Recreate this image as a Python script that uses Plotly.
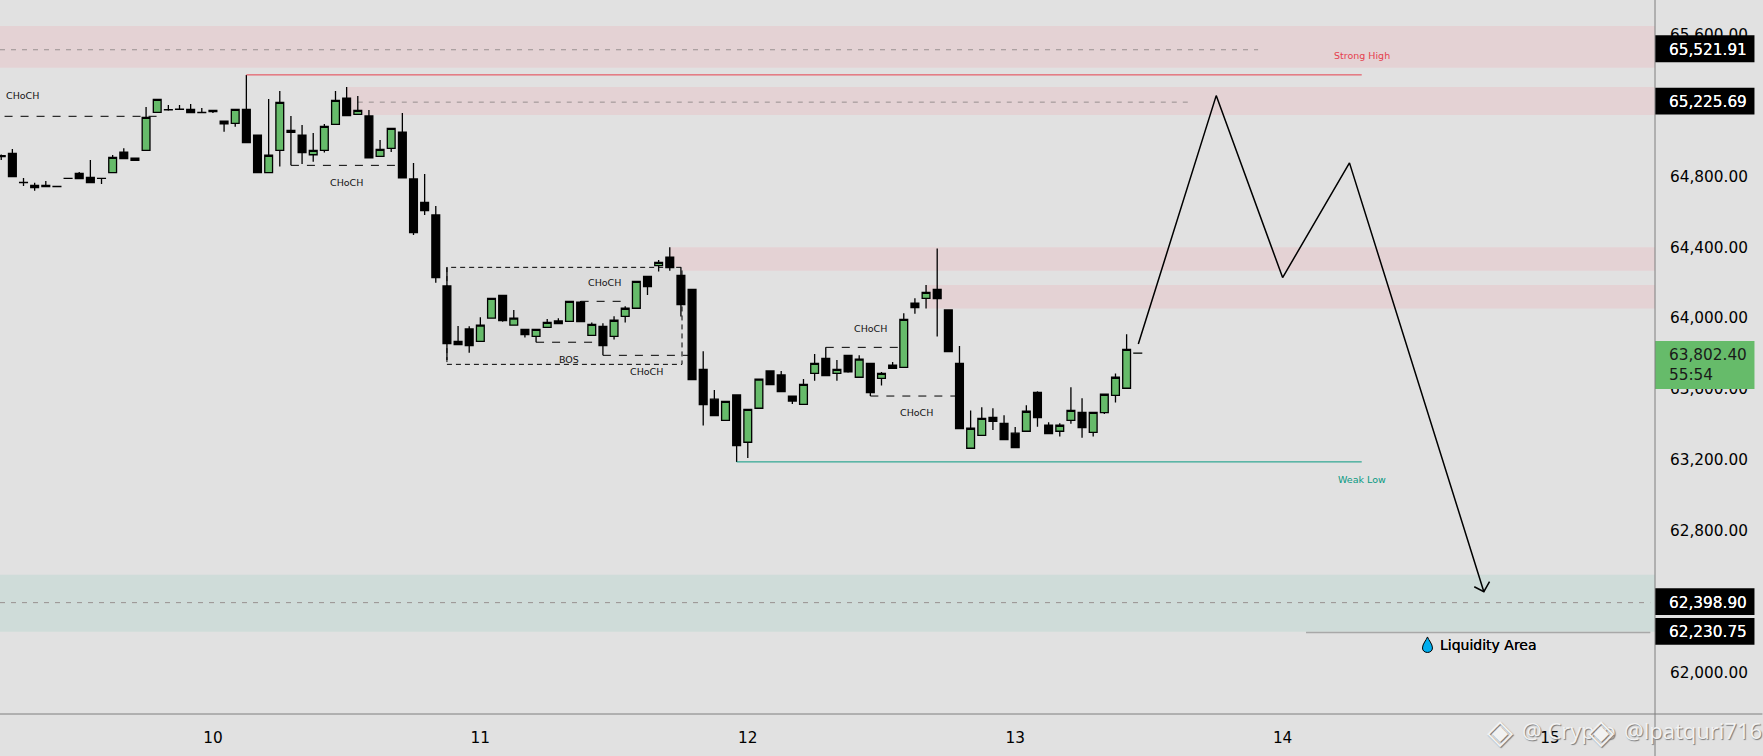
import plotly.graph_objects as go

# hours counted from the "10" day label, one candle per hour
hours = list(range(-19, 84))

opens = [64918, 64931, 64767, 64750, 64750, 64744, 64790, 64818, 64795, 64790,
         64822, 64937, 64891, 64948, 65162, 65177, 65179, 65179, 65162, 65174,
         65112, 65100, 65179, 65033, 64822, 64948, 65050, 65033, 64923, 64948,
         65095, 65242, 65151, 65142, 64914, 64959, 65051, 64786, 64654, 64583,
         64182, 63869, 63939, 63869, 64000, 64129, 63960, 63937, 63897, 63948,
         63984, 63982, 64091, 63903, 63954, 63897, 64010, 64056, 64236, 64297,
         64344, 64242, 64163, 63711, 63542, 63423, 63566, 63299, 63491, 63702,
         63679, 63560, 63513, 63688, 63773, 63688, 63790, 63666, 63745, 63660,
         63734, 63722, 64084, 64112, 64163, 64046, 63745, 63265, 63338, 63440,
         63406, 63350, 63361, 63581, 63395, 63361, 63423, 63468, 63355, 63466,
         63564, 63604, 63802]
highs = [64925, 64955, 64792, 64765, 64775, 64744, 64790, 64825, 64893, 64790,
         64921, 64959, 64903, 65193, 65236, 65204, 65204, 65210, 65187, 65174,
         65112, 65179, 65373, 65033, 65238, 65283, 65142, 65091, 65046, 65097,
         65283, 65306, 65255, 65176, 65006, 65072, 65159, 64876, 64814, 64633,
         64287, 63956, 63954, 64005, 64112, 64129, 64046, 63937, 63937, 63995,
         64000, 64095, 64097, 63976, 63971, 64010, 64067, 64208, 64236, 64329,
         64400, 64287, 64163, 63813, 63594, 63530, 63566, 63485, 63655, 63702,
         63702, 63560, 63656, 63798, 63835, 63764, 63790, 63790, 63745, 63696,
         63752, 64027, 64112, 64187, 64394, 64046, 63843, 63479, 63496, 63491,
         63451, 63385, 63508, 63587, 63412, 63406, 63609, 63547, 63468, 63570,
         63688, 63909, 63803]
lows = [64893, 64799, 64746, 64720, 64743, 64743, 64789, 64788, 64765, 64758,
        64822, 64901, 64891, 64948, 65162, 65172, 65178, 65161, 65159, 65159,
        65053, 65081, 64991, 64822, 64822, 64856, 64863, 64871, 64884, 64935,
        65095, 65144, 65151, 64906, 64914, 64938, 64793, 64470, 64583, 64200,
        63764, 63850, 63805, 63869, 64000, 63980, 63960, 63890, 63864, 63948,
        63969, 63982, 63980, 63903, 63790, 63879, 63975, 64056, 64131, 64263,
        64268, 64009, 63653, 63393, 63449, 63423, 63188, 63210, 63491, 63624,
        63585, 63515, 63513, 63647, 63675, 63647, 63692, 63666, 63560, 63619,
        63717, 63722, 64025, 64054, 63896, 63811, 63376, 63265, 63338, 63368,
        63314, 63269, 63361, 63387, 63348, 63331, 63404, 63325, 63331, 63459,
        63523, 63604, 63802]
closes = [64912, 64799, 64765, 64737, 64743, 64743, 64789, 64788, 64765, 64789,
          64908, 64901, 64903, 65134, 65236, 65178, 65180, 65161, 65161, 65166,
          65098, 65179, 64991, 64822, 64920, 65219, 65061, 64935, 64948, 65083,
          65230, 65144, 65174, 64906, 64953, 65072, 64793, 64483, 64607, 64229,
          63856, 63850, 63845, 63960, 64112, 63986, 64000, 63907, 63937, 63976,
          63969, 64095, 63980, 63965, 63845, 63988, 64056, 64208, 64178, 64315,
          64285, 64076, 63653, 63511, 63449, 63530, 63280, 63485, 63655, 63624,
          63585, 63532, 63626, 63745, 63675, 63711, 63696, 63768, 63579, 63688,
          63717, 63993, 64059, 64146, 64110, 63811, 63376, 63378, 63434, 63417,
          63314, 63269, 63474, 63438, 63348, 63395, 63479, 63382, 63468, 63570,
          63666, 63824, 63802.4]

x_start, x_end = -19.11, 129.42
y_bottom, y_top = 61764, 65797

day_ticks = [0, 24, 48, 72, 96, 120]
day_labels = ["10", "11", "12", "13", "14", "15"]
price_ticks = [62000, 62400, 62800, 63200, 63600, 64000, 64400, 64800, 65200, 65600]

# supply / demand zones: first hour, top, bottom
red_zones = [(x_start, 65650, 65415), (12, 65306, 65148), (41, 64400, 64268), (64, 64187, 64054)]
green_zone = (x_start, 62550, 62229)

# dashed structure lines: first hour, last hour, price
structure_lines = [(-18.7, -5, 65140), (7, 16.6, 64863), (33, 37, 64095),
                   (29, 35, 63864), (35, 43, 63790), (55, 62, 63835), (59, 67, 63560)]
box_hours = (21, 42.1)
box_prices = (63739, 64287)

# thin grey dashed level lines
level_lines = [(x_start, 93.8, 65516), (13, 88, 65220), (x_start, 129, 62393)]

strong_high = (3, 103.1, 65374)
weak_low = (47, 103.1, 63188)
liquidity_line = (98.1, 129, 62225)

path_hours = [83.05, 90.04, 96, 102, 114.06]
path_prices = [63854, 65257, 64229, 64877, 62455]
arrow_hours = [113.2, 114.06, 114.57]
arrow_prices = [62483, 62455, 62512]

labels = [(-17.05, 65256, "CHoCH"), (12, 64764, "CHoCH"), (35.1, 64204, "CHoCH"),
          (32, 63764, "BOS"), (38.9, 63696, "CHoCH"), (59, 63939, "CHoCH"), (63.1, 63465, "CHoCH")]

price_tags = [65521.91, 65225.69, 62398.90, 62230.75]

BG = "#e1e1e1"
FONT = "DejaVu Sans"

fig = go.Figure()

fig.add_trace(go.Candlestick(
    x=hours, open=opens, high=highs, low=lows, close=closes,
    increasing=dict(fillcolor="#66bb6a", line=dict(color="#000000", width=1.3)),
    decreasing=dict(fillcolor="#000000", line=dict(color="#000000", width=1.3)),
    whiskerwidth=0,
    showlegend=False,
))
fig.add_trace(go.Scatter(x=path_hours, y=path_prices, mode="lines", showlegend=False,
                         line=dict(color="#000000", width=1.5)))
fig.add_trace(go.Scatter(x=arrow_hours, y=arrow_prices, mode="lines", showlegend=False,
                         line=dict(color="#000000", width=1.5)))

for start, top, bottom in red_zones:
    fig.add_shape(type="rect", x0=start, x1=x_end, y0=bottom, y1=top, layer="below",
                  fillcolor="#e4d2d4", line_width=0)
fig.add_shape(type="rect", x0=green_zone[0], x1=x_end, y0=green_zone[2], y1=green_zone[1],
              layer="below", fillcolor="#cfdcd9", line_width=0)

fig.add_shape(type="rect", x0=box_hours[0], x1=box_hours[1], y0=box_prices[0], y1=box_prices[1],
              layer="below", fillcolor="#dcdcdc",
              line=dict(color="#000000", width=1, dash="5px,4px"))

for start, end, price in structure_lines:
    fig.add_shape(type="line", x0=start, x1=end, y0=price, y1=price, layer="below",
                  line=dict(color="#000000", width=1, dash="8px,8px"))

for start, end, price in level_lines:
    fig.add_shape(type="line", x0=start, x1=end, y0=price, y1=price, layer="below",
                  line=dict(color="#999090", width=1, dash="5px,6px"))

fig.add_shape(type="line", x0=strong_high[0], x1=strong_high[1], y0=strong_high[2], y1=strong_high[2],
              line=dict(color="#e5404e", width=1))
fig.add_shape(type="line", x0=weak_low[0], x1=weak_low[1], y0=weak_low[2], y1=weak_low[2],
              line=dict(color="#089981", width=1))
fig.add_shape(type="line", x0=liquidity_line[0], x1=liquidity_line[1], y0=liquidity_line[2], y1=liquidity_line[2],
              line=dict(color="#a8a8a8", width=1.5))

for hour, price, text in labels:
    fig.add_annotation(x=hour, y=price, text=text, showarrow=False,
                       font=dict(family=FONT, size=9.5, color="#111111"))
fig.add_annotation(x=103.1, y=65481, text="Strong High", showarrow=False,
                   font=dict(family=FONT, size=9.5, color="#e5404e"))
fig.add_annotation(x=103.1, y=63086, text="Weak Low", showarrow=False,
                   font=dict(family=FONT, size=9.5, color="#089981"))
fig.add_annotation(x=114.5, y=62154, text="Liquidity Area", showarrow=False,
                   font=dict(family=FONT, size=14, color="#000000", shadow="0 0 0.6px #000000"))

# water drop next to the liquidity label
fig.add_shape(type="path", xref="x", yref="y", xsizemode="pixel", ysizemode="pixel",
              xanchor=109, yanchor=62154,
              path="M0,8 C-1,5 -5,1 -5,-3 C-5,-9 5,-9 5,-3 C5,1 1,5 0,8 Z",
              fillcolor="#00aeef", line=dict(color="#000000", width=1))

# price tags on the axis
for price in price_tags:
    fig.add_shape(type="rect", xref="paper", x0=1, x1=1.0601, y0=price - 76, y1=price + 76,
                  fillcolor="#000000", line_width=0)
    fig.add_annotation(xref="paper", x=1, xanchor="left", xshift=12, yshift=-1, y=price,
                       text=f"{price:,.2f}", showarrow=False,
                       font=dict(family=FONT, size=15.3, color="#ffffff", shadow="0 0 0.5px #ffffff"))
fig.add_shape(type="rect", xref="paper", x0=1, x1=1.0601, y0=63600, y1=63871,
              fillcolor="#66bb6a", line_width=0)
fig.add_annotation(xref="paper", x=1, xanchor="left", xshift=12, y=63735,
                   text="63,802.40<br>55:54", align="left", showarrow=False,
                   font=dict(family=FONT, size=15.3, color="#1a1a1a"))

# frame lines run past the plot area in the reference
fig.add_shape(type="line", xref="paper", yref="paper", x0=0, x1=1.0649, y0=0, y1=0,
              line=dict(color="#7f7f7f", width=1))
fig.add_shape(type="line", xref="paper", yref="paper", x0=1, x1=1, y0=-0.059, y1=1,
              line=dict(color="#7f7f7f", width=1))

# watermark
for px, text, size in [(1485, "◈", 34), (1520, "@ Crypto", 22), (1586, "◈", 34), (1622, "@lpatquri716", 22)]:
    fig.add_annotation(xref="paper", yref="paper", x=px / 1655.5, y=-0.0224, xanchor="left", yanchor="middle",
                       text=text, showarrow=False,
                       font=dict(family="Open Sans", size=size, color="#f2f2f2", shadow="1px 1px 1px #777777"))

fig.update_layout(
    width=1763,
    height=756,
    margin=dict(l=0, r=107.5, t=0, b=42),
    paper_bgcolor=BG,
    plot_bgcolor=BG,
    boxgap=0,
    showlegend=False,
    xaxis=dict(
        range=[x_start, x_end],
        rangeslider=dict(visible=False),
        tickvals=day_ticks,
        ticktext=day_labels,
        showgrid=False,
        zeroline=False,
        ticks="outside",
        ticklen=10,
        tickcolor="rgba(0,0,0,0)",
        tickfont=dict(family=FONT, size=15.3, color="#000000"),
    ),
    yaxis=dict(
        range=[y_bottom, y_top],
        side="right",
        tickvals=price_ticks,
        ticktext=[f"{v:,.2f}" for v in price_ticks],
        showgrid=False,
        zeroline=False,
        ticks="outside",
        ticklen=11,
        tickcolor="rgba(0,0,0,0)",
        tickfont=dict(family=FONT, size=15.3, color="#000000"),
    ),
)

fig.write_html("out.html", config=dict(displayModeBar=False),
               post_script="document.body.style.margin='0';")
